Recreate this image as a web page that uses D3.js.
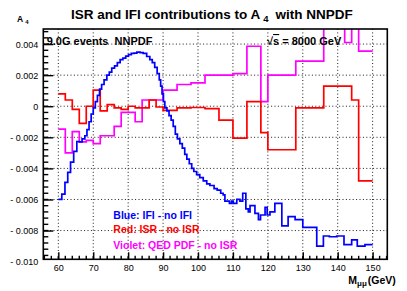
<!DOCTYPE html>
<html><head><meta charset="utf-8">
<script src="https://cdn.jsdelivr.net/npm/d3@7"></script>
<style>
body{margin:0;background:#fff}
svg{display:block}
text{font-family:"Liberation Sans",Arial,Helvetica,sans-serif}
</style>
</head><body>
<svg id="c" width="407" height="291"></svg>
<script>
// ---- data ----
const blueEdges = [60.0,61.0,61.9,62.7,63.5,64.4,65.3,66.0,66.8,67.6,68.2,68.8,69.4,70.0,70.6,71.2,71.8,72.4,73.1,73.9,74.6,75.3,76.1,76.9,77.7,78.5,79.3,80.1,80.9,81.7,82.5,83.4,84.3,85.3,86.2,86.9,87.6,88.3,88.9,89.3,89.7,90.1,90.5,91.1,91.7,92.3,92.9,93.5,94.1,94.8,95.5,96.2,96.8,97.5,98.2,98.8,99.6,100.5,101.5,102.5,103.4,104.6,105.5,106.5,107.2,107.7,109.0,109.6,110.1,111.1,112.0,112.8,113.7,114.4,114.9,116.3,117.3,117.9,119.2,119.8,120.6,122.0,124.0,125.8,127.8,130.0,134.0,135.9,137.6,139.7,141.8,144.0,145.6,147.8,150.0];
const blueValues = [-0.0060,-0.00566,-0.0049,-0.00425,-0.0036,-0.0029,-0.00227,-0.0023,-0.0021,-0.0019,-0.0015,-0.0010,-0.0005,-0.0001,0.0003,0.0007,0.0011,0.0014,0.0017,0.0020,0.0022,0.00245,0.0026,0.0028,0.0030,0.0031,0.00322,0.00332,0.0034,0.00342,0.00348,0.00345,0.0034,0.0032,0.0030,0.0028,0.0025,0.0021,0.0017,0.0013,0.0008,0.0003,-0.0001,-0.0003,-0.0006,-0.0009,-0.0013,-0.0018,-0.0021,-0.0024,-0.0027,-0.0031,-0.0034,-0.0037,-0.0040,-0.0042,-0.0044,-0.0046,-0.0048,-0.0050,-0.0051,-0.0053,-0.0054,-0.0056,-0.0057,-0.0061,-0.00625,-0.0061,-0.00625,-0.0060,-0.0061,-0.0056,-0.0066,-0.0068,-0.0064,-0.0069,-0.0073,-0.0070,-0.0065,-0.0070,-0.0068,-0.00625,-0.0077,-0.0071,-0.0073,-0.0078,-0.0090,-0.00835,-0.0084,-0.00835,-0.0089,-0.0086,-0.0090,-0.0089];

const redEdges = [60,62,64,66,68,70,72,74,76,78,80,82,84,86,88,90,92,94,96,98,100,102,104,106,110,114,118,120,128,136,144,146,150];
const redValues = [0.0008,0.0004,-0.0002,-0.0011,0.0000,0.00104,-0.0003,0.0001,-0.0001,-0.0002,0.0000,-0.0001,-0.0001,0.0004,-0.00005,-0.00027,-0.00027,-0.0001,-0.0001,-0.00008,-0.00008,-0.00016,-0.00016,-0.0009,-0.00205,0.0003,-0.0017,-0.0028,-0.0001,0.0013,0.0004,-0.0048];

const violetEdges = [60,62,64,66,68,70,72,74,76,78,80,82,84,86,88,90,92,94,96,98,100,102,104,106,110,114,118,120,128,136,142,144,146,150];
const violetValues = [-0.00147,-0.0030,-0.00163,-0.0023,-0.0022,-0.0024,-0.0019,-0.0019,-0.0013,-0.0004,-0.0004,-0.0010,0.0004,0.0004,0.0004,0.00104,0.00104,0.0014,0.0014,0.0015,0.0015,0.0020,0.0020,0.0020,0.0021,0.00386,0.0003,0.0020,0.0029,0.0062,0.0041,0.0062,0.00354];

const xTicks = [60,70,80,90,100,110,120,130,140,150];
const xTickLabels = ["60","70","80","90","100","110","120","130","140","150"];
const yTicks = [0.004,0.002,0,-0.002,-0.004,-0.006,-0.008,-0.010];
const yTickLabels = ["0.004","0.002","0","- 0.002","- 0.004","- 0.006","- 0.008","- 0.010"];

const legendTexts = ["Blue: IFI - no IFI","Red: ISR - no ISR","Violet: QED PDF - no ISR"];
const seriesColors = ["#0000ff","#ff0000","#ff00ff"];

// ---- layout ----
const fx0=43.3, fx1=387.3, fy0=29, fy1=259.3;
const svg = d3.select("#c");
const x = d3.scaleLinear().domain([55.7,154.2]).range([fx0,fx1]);
const y = d3.scaleLinear().domain([-0.00985,0.00497]).range([fy1,fy0]);

svg.append("defs").append("clipPath").attr("id","fr")
  .append("rect").attr("x",fx0).attr("y",fy0).attr("width",fx1-fx0).attr("height",fy1-fy0);

// grid
const grid = svg.append("g").attr("stroke","#000").attr("stroke-width",0.9).attr("stroke-dasharray","1,2.4");
grid.selectAll("line.gx").data(xTicks).join("line")
  .attr("x1",d=>x(d)).attr("x2",d=>x(d)).attr("y1",fy0).attr("y2",fy1);
grid.selectAll("line.gy").data(yTicks.filter(d=>y(d)>fy0&&y(d)<fy1)).join("line")
  .attr("class","gy").attr("y1",d=>y(d)).attr("y2",d=>y(d)).attr("x1",fx0).attr("x2",fx1);

// histograms
function stepPts(edges, vals){
  const p = vals.map((v,i)=>[edges[i],v]);
  p.push([edges[edges.length-1], vals[vals.length-1]]);
  return p;
}
const line = d3.line().x(d=>x(d[0])).y(d=>y(d[1])).curve(d3.curveStepAfter);
const hg = svg.append("g").attr("clip-path","url(#fr)").attr("fill","none").attr("stroke-width",1.7);
hg.append("path").attr("d",line(stepPts(violetEdges,violetValues))).attr("stroke",seriesColors[2]);
hg.append("path").attr("d",line(stepPts(redEdges,redValues))).attr("stroke",seriesColors[1]);
hg.append("path").attr("d",line(stepPts(blueEdges,blueValues))).attr("stroke",seriesColors[0]);

// axes
const yAxis = d3.axisLeft(y).tickValues(yTicks).tickSize(-10).tickPadding(5)
  .tickFormat(d=>yTickLabels[yTicks.indexOf(d)]);
const ya = svg.append("g").attr("transform",`translate(${fx0},0)`).call(yAxis);
ya.select(".domain").remove();
ya.selectAll(".tick").filter(d=>y(d)>fy1+0.5).select("line").remove();
ya.selectAll("line").attr("stroke-width",1.4);
ya.selectAll("text").attr("font-size",9).attr("fill","#000").attr("dy","0.33em");

const xAxis = d3.axisBottom(x).tickValues(xTicks).tickSize(-7).tickPadding(5)
  .tickFormat(d=>xTickLabels[xTicks.indexOf(d)]);
const xa = svg.append("g").attr("transform",`translate(0,${fy1})`).call(xAxis);
xa.select(".domain").remove();
xa.selectAll("line").attr("stroke-width",1.4);
xa.selectAll("text").attr("font-size",9).attr("fill","#000");

// minor ticks
const yMinor = d3.range(-24,13).map(i=>i*0.0004).filter(v=>y(v)>=fy0&&y(v)<=fy1);
svg.append("g").attr("stroke","#000").attr("stroke-width",1.4).selectAll("line").data(yMinor).join("line")
  .attr("x1",fx0).attr("x2",fx0+5).attr("y1",d=>y(d)).attr("y2",d=>y(d));
const xMinor = d3.range(56,155,2).filter(v=>x(v)>=fx0&&x(v)<=fx1);
svg.append("g").attr("stroke","#000").attr("stroke-width",1.4).selectAll("line").data(xMinor).join("line")
  .attr("x1",d=>x(d)).attr("x2",d=>x(d)).attr("y1",fy1).attr("y2",fy1-3.5);

// frame
svg.append("rect").attr("x",fx0).attr("y",fy0).attr("width",fx1-fx0).attr("height",fy1-fy0)
  .attr("fill","none").attr("stroke","#000").attr("stroke-width",1.6);

// title
const t = svg.append("text").attr("x",71).attr("y",18.5).attr("font-size",13.5).attr("font-weight","bold");
t.append("tspan").text("ISR and IFI contributions to A");
t.append("tspan").attr("dx",3).attr("dy",3).attr("font-size",9.5).text("4");
t.append("tspan").attr("dx",7).attr("dy",-3).text("with NNPDF");

// y title
const yt = svg.append("text").attr("x",17).attr("y",22).attr("font-size",8.5).attr("font-weight","bold");
yt.append("tspan").text("A");
yt.append("tspan").attr("dx",2).attr("dy",2).attr("font-size",6).text("4");

// x title
const xt = svg.append("text").attr("x",348.3).attr("y",284).attr("font-size",10.5).attr("font-weight","bold");
xt.append("tspan").text("M");
xt.append("tspan").attr("dy",2).attr("font-size",8).text("μμ");
xt.append("tspan").attr("dy",-2).attr("dx",1).text("(GeV)");

// annotations
svg.append("text").attr("x",46.7).attr("y",45).attr("font-size",11).attr("font-weight","bold").style("white-space","pre").text("9.0G events  NNPDF");
const rs = svg.append("text").attr("x",267).attr("y",45).attr("font-size",11).attr("font-weight","bold");
rs.append("tspan").text("√");
rs.append("tspan").style("text-decoration","overline").text("s");
rs.append("tspan").text(" = 8000 GeV");

// legend
const lgY = [219, 232.7, 249.3];
svg.selectAll("text.lg").data(legendTexts).join("text").attr("class","lg")
  .attr("x",113.3).attr("y",(d,i)=>lgY[i]).attr("font-size",10.5).attr("font-weight","bold")
  .attr("fill",(d,i)=>seriesColors[i]).text(d=>d);
</script>
</body></html>
